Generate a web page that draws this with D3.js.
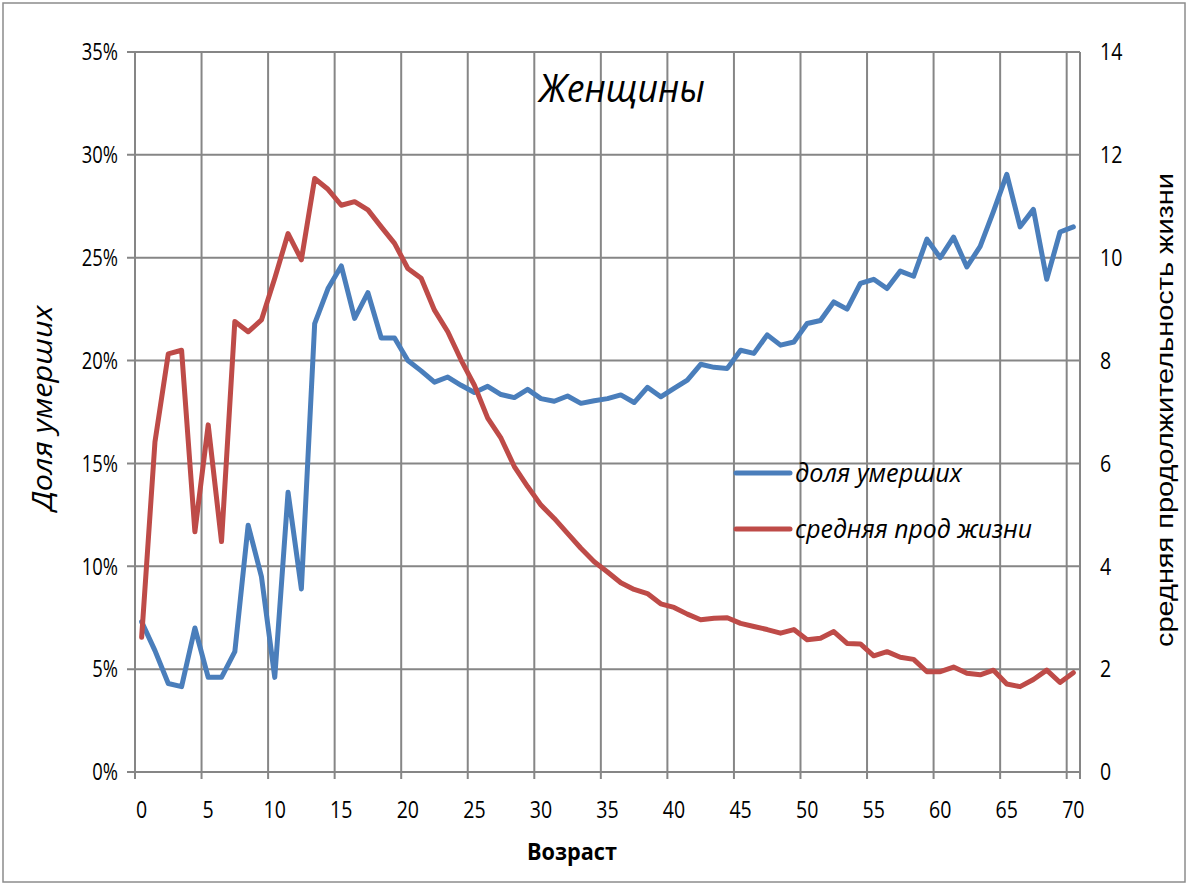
<!DOCTYPE html>
<html><head><meta charset="utf-8">
<script src="https://cdn.jsdelivr.net/npm/d3@7"></script>
<style>body{margin:0;background:#fff}svg{display:block}</style>
</head><body>
<script>
const ages = d3.range(0, 71);
const shareDead = [7.3,5.9,4.3,4.15,7.0,4.6,4.6,5.85,12.0,9.5,4.6,13.6,8.9,21.8,23.5,24.6,22.05,23.3,21.1,21.1,
  20.0,19.5,18.95,19.2,18.8,18.45,18.75,18.35,18.2,18.6,18.15,18.02,18.28,17.92,18.05,18.15,18.33,17.96,18.7,18.24,
  18.65,19.05,19.82,19.67,19.62,20.5,20.35,21.25,20.75,20.9,21.8,21.95,22.85,22.5,23.75,23.95,23.5,24.35,24.1,25.9,
  25.0,26.0,24.55,25.55,27.25,29.05,26.5,27.35,23.95,26.25,26.5];
const lifeExp = [2.62,6.42,8.13,8.2,4.67,6.75,4.48,8.76,8.56,8.79,9.6,10.47,9.96,11.54,11.33,11.02,11.09,10.93,10.6,10.28,
  9.79,9.6,8.98,8.56,8.01,7.52,6.88,6.49,5.94,5.55,5.19,4.93,4.64,4.35,4.09,3.89,3.68,3.55,3.47,3.27,
  3.2,3.07,2.96,2.99,3.0,2.89,2.83,2.77,2.7,2.77,2.57,2.6,2.73,2.5,2.49,2.26,2.34,2.23,2.19,1.95,
  1.95,2.04,1.92,1.89,1.98,1.71,1.66,1.8,1.98,1.74,1.93];
const leftTicks = [0,5,10,15,20,25,30,35];
const rightTicks = [0,2,4,6,8,10,12,14];
const xTickLabels = [0,5,10,15,20,25,30,35,40,45,50,55,60,65,70];
const seriesNames = ["доля умерших","средняя прод жизни"];
const titleText = "Женщины";
const xTitle = "Возраст", yTitle = "Доля умерших", y2Title = "средняя продолжительность жизни";

const W = 1188, H = 883;
const L = 135, R = 1080, T = 52, B = 772;
const blue = "#4A7EBB", red = "#BE4B48", grid = "#868686";
const font = "'Open Sans',sans-serif";

const svg = d3.select("body").append("svg").attr("width", W).attr("height", H);
svg.append("rect").attr("x",3).attr("y",3).attr("width",W-6).attr("height",H-4)
  .attr("fill","#fff").attr("stroke","#8c8c8c").attr("stroke-width",1.5);

const x = d3.scaleBand().domain(ages).range([L, R]).paddingInner(0).paddingOuter(0);
const y = d3.scaleLinear().domain([0, 35]).range([B, T]);
const y2 = d3.scaleLinear().domain([0, 14]).range([B, T]);

// squeeze text horizontally to imitate a condensed face
function squeeze(sel, k) {
  sel.each(function() {
    const len = this.getComputedTextLength();
    d3.select(this).attr("textLength", len * k).attr("lengthAdjust", "spacingAndGlyphs");
  });
}

// horizontal gridlines
svg.append("g").selectAll("line").data(leftTicks).join("line")
  .attr("x1", L - 8).attr("x2", R).attr("y1", d => y(d)).attr("y2", d => y(d))
  .attr("stroke", grid).attr("stroke-width", 2);
// vertical gridlines at category boundaries every 5
svg.append("g").selectAll("line").data(xTickLabels).join("line")
  .attr("x1", d => x(d)).attr("x2", d => x(d)).attr("y1", T).attr("y2", B + 7)
  .attr("stroke", grid).attr("stroke-width", 2);
svg.append("line").attr("x1", R).attr("x2", R).attr("y1", T).attr("y2", B + 7)
  .attr("stroke", grid).attr("stroke-width", 2);

// left axis labels
svg.append("g").selectAll("text").data(leftTicks).join("text")
  .attr("x", 118).attr("y", d => y(d)).attr("dy", "0.36em").attr("text-anchor", "end")
  .attr("font-family", font).attr("font-size", 23).attr("fill", "#000").text(d => d + "%")
  .call(squeeze, 0.8);
// right axis labels
svg.append("g").selectAll("text").data(rightTicks).join("text")
  .attr("x", 1100).attr("y", d => y2(d)).attr("dy", "0.36em").attr("text-anchor", "start")
  .attr("font-family", font).attr("font-size", 23).attr("fill", "#000").text(d => d)
  .call(squeeze, 0.85);
// x labels
svg.append("g").selectAll("text").data(xTickLabels).join("text")
  .attr("x", d => x(d) + x.bandwidth() / 2).attr("y", 810).attr("dy", "0.36em").attr("text-anchor", "middle")
  .attr("font-family", font).attr("font-size", 23).attr("fill", "#000").text(d => d)
  .call(squeeze, 0.85);

// lines
const lineB = d3.line().x((d, i) => x(ages[i]) + x.bandwidth() / 2).y(d => y(d));
const lineR = d3.line().x((d, i) => x(ages[i]) + x.bandwidth() / 2).y(d => y2(d));
svg.append("path").attr("d", lineB(shareDead)).attr("fill", "none").attr("stroke", blue)
  .attr("stroke-width", 5).attr("stroke-linejoin", "round").attr("stroke-linecap", "round");
svg.append("path").attr("d", lineR(lifeExp)).attr("fill", "none").attr("stroke", red)
  .attr("stroke-width", 5).attr("stroke-linejoin", "round").attr("stroke-linecap", "round");

// titles
svg.append("text").attr("x", 622).attr("y", 88).attr("dy", "0.36em").attr("text-anchor", "middle")
  .attr("font-family", font).attr("font-size", 38).attr("font-style", "italic").text(titleText)
  .attr("textLength", 166).attr("lengthAdjust", "spacingAndGlyphs");
svg.append("text").attr("x", 572).attr("y", 852).attr("dy", "0.36em").attr("text-anchor", "middle")
  .attr("font-family", font).attr("font-size", 23).attr("font-weight", "bold").text(xTitle)
  .attr("textLength", 90).attr("lengthAdjust", "spacingAndGlyphs");
svg.append("text").attr("transform", "translate(42,408) rotate(-90)").attr("dy", "0.36em").attr("text-anchor", "middle")
  .attr("font-family", font).attr("font-size", 28).attr("font-style", "italic").text(yTitle)
  .attr("textLength", 205).attr("lengthAdjust", "spacingAndGlyphs");
svg.append("text").attr("transform", "translate(1165,410) rotate(-90)").attr("dy", "0.36em").attr("text-anchor", "middle")
  .attr("font-family", "'Liberation Sans',Arial,sans-serif").attr("font-size", 23).text(y2Title)
  .attr("textLength", 474).attr("lengthAdjust", "spacingAndGlyphs");

// legend
const leg = svg.append("g");
[[blue, 473], [red, 529]].forEach(([c, yy], i) => {
  leg.append("line").attr("x1", 736).attr("x2", 790).attr("y1", yy).attr("y2", yy)
    .attr("stroke", c).attr("stroke-width", 5).attr("stroke-linecap", "round");
  leg.append("text").attr("x", 795).attr("y", yy).attr("dy", "0.36em")
    .attr("font-family", font).attr("font-size", 25).attr("font-style", "italic").text(seriesNames[i])
    .attr("textLength", i === 0 ? 167 : 237).attr("lengthAdjust", "spacingAndGlyphs");
});
</script>
</body></html>
